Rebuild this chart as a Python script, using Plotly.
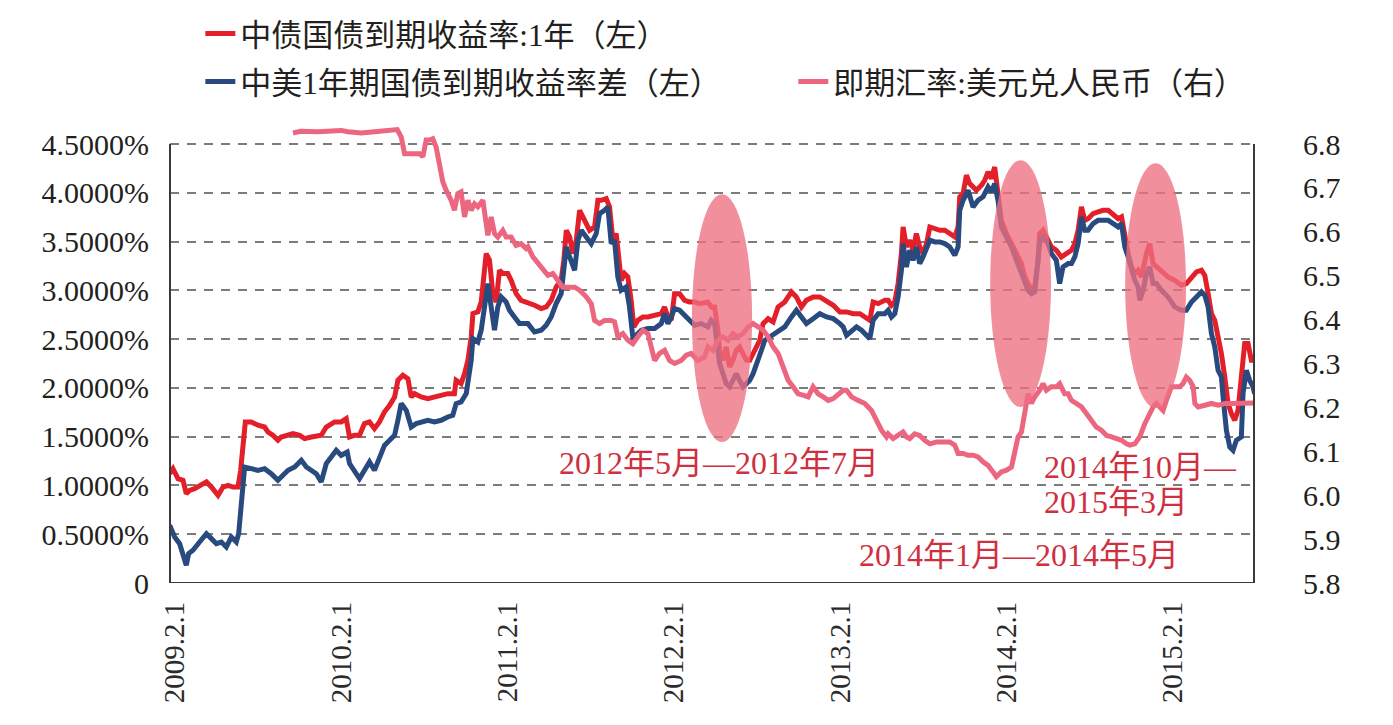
import plotly.graph_objects as go
import pandas as pd

# ---------------- data ----------------
# x values are fractional years, y values in % (left axis) or CNY per USD (right axis)
cn1y = [
    (2009.053, 1.121), (2009.073, 1.172), (2009.103, 1.070), (2009.133, 1.053), (2009.153, 0.916),
    (2009.173, 0.950), (2009.203, 0.967), (2009.233, 1.001), (2009.274, 1.036), (2009.304, 0.984),
    (2009.344, 0.899), (2009.374, 0.984), (2009.404, 1.001), (2009.434, 0.984), (2009.464, 0.984),
    (2009.480, 1.155), (2009.494, 1.360), (2009.508, 1.651), (2009.544, 1.651), (2009.584, 1.617),
    (2009.624, 1.599), (2009.644, 1.548), (2009.674, 1.514), (2009.704, 1.463), (2009.724, 1.497),
    (2009.755, 1.514), (2009.795, 1.531), (2009.835, 1.514), (2009.865, 1.480), (2009.905, 1.497),
    (2009.965, 1.514), (2009.995, 1.599), (2010.045, 1.651), (2010.085, 1.651), (2010.115, 1.685),
    (2010.135, 1.497), (2010.165, 1.514), (2010.195, 1.514), (2010.225, 1.634), (2010.255, 1.651),
    (2010.285, 1.582), (2010.315, 1.651), (2010.345, 1.753), (2010.376, 1.822), (2010.406, 1.907),
    (2010.426, 2.078), (2010.456, 2.129), (2010.486, 2.095), (2010.506, 1.907), (2010.526, 1.941),
    (2010.566, 1.907), (2010.606, 1.890), (2010.646, 1.907), (2010.686, 1.924), (2010.726, 1.941),
    (2010.766, 1.941), (2010.776, 2.078), (2010.806, 2.044), (2010.827, 2.146), (2010.847, 2.283),
    (2010.867, 2.522), (2010.877, 2.761), (2010.907, 2.779), (2010.927, 2.881), (2010.937, 3.069),
    (2010.957, 3.377), (2010.977, 3.308), (2010.997, 2.966), (2011.017, 2.881), (2011.037, 3.206),
    (2011.057, 3.172), (2011.087, 3.172), (2011.107, 3.103), (2011.137, 2.966), (2011.167, 2.898),
    (2011.197, 2.881), (2011.248, 2.847), (2011.288, 2.813), (2011.318, 2.830), (2011.348, 2.898),
    (2011.378, 3.035), (2011.408, 3.103), (2011.424, 3.308), (2011.439, 3.616), (2011.459, 3.548),
    (2011.479, 3.377), (2011.499, 3.514), (2011.519, 3.821), (2011.549, 3.718), (2011.579, 3.616),
    (2011.609, 3.650), (2011.629, 3.923), (2011.649, 3.923), (2011.679, 3.941), (2011.699, 3.855),
    (2011.719, 3.514), (2011.739, 3.582), (2011.753, 3.308), (2011.769, 3.103), (2011.789, 3.172),
    (2011.809, 3.137), (2011.829, 2.898), (2011.845, 2.625), (2011.869, 2.693), (2011.900, 2.727),
    (2011.930, 2.727), (2011.970, 2.744), (2012.010, 2.761), (2012.030, 2.830), (2012.050, 2.727),
    (2012.070, 2.693), (2012.090, 2.966), (2012.120, 2.966), (2012.150, 2.898), (2012.180, 2.881),
    (2012.210, 2.881), (2012.240, 2.864), (2012.270, 2.881), (2012.290, 2.881), (2012.310, 2.830),
    (2012.330, 2.830), (2012.350, 2.591), (2012.360, 2.386), (2012.380, 2.283), (2012.400, 2.420),
    (2012.420, 2.215), (2012.440, 2.283), (2012.460, 2.386), (2012.480, 2.420), (2012.500, 2.351),
    (2012.521, 2.283), (2012.541, 2.283), (2012.561, 2.351), (2012.581, 2.420), (2012.601, 2.488),
    (2012.621, 2.659), (2012.651, 2.710), (2012.681, 2.676), (2012.711, 2.830), (2012.751, 2.881),
    (2012.791, 2.984), (2012.821, 2.932), (2012.851, 2.830), (2012.881, 2.898), (2012.921, 2.932),
    (2012.961, 2.932), (2013.002, 2.881), (2013.042, 2.847), (2013.082, 2.779), (2013.122, 2.779),
    (2013.162, 2.761), (2013.202, 2.761), (2013.232, 2.727), (2013.262, 2.693), (2013.282, 2.881),
    (2013.312, 2.864), (2013.352, 2.898), (2013.372, 2.898), (2013.392, 2.847), (2013.412, 2.881),
    (2013.432, 3.069), (2013.452, 3.377), (2013.462, 3.650), (2013.482, 3.445), (2013.502, 3.514),
    (2013.522, 3.411), (2013.542, 3.582), (2013.562, 3.445), (2013.582, 3.377), (2013.603, 3.479),
    (2013.623, 3.650), (2013.653, 3.633), (2013.683, 3.616), (2013.713, 3.616), (2013.743, 3.582),
    (2013.773, 3.548), (2013.793, 3.650), (2013.803, 3.958), (2013.823, 3.992), (2013.843, 4.180),
    (2013.863, 4.094), (2013.883, 4.060), (2013.903, 4.026), (2013.933, 4.077), (2013.953, 4.128),
    (2013.973, 4.214), (2013.993, 4.146), (2014.013, 4.265), (2014.033, 3.992), (2014.053, 3.718),
    (2014.084, 3.582), (2014.114, 3.479), (2014.144, 3.377), (2014.174, 3.274), (2014.194, 3.137),
    (2014.214, 3.069), (2014.234, 3.001), (2014.254, 3.035), (2014.274, 3.308), (2014.284, 3.582),
    (2014.304, 3.616), (2014.334, 3.514), (2014.354, 3.445), (2014.384, 3.411), (2014.414, 3.342),
    (2014.444, 3.377), (2014.475, 3.411), (2014.495, 3.479), (2014.515, 3.616), (2014.535, 3.855),
    (2014.555, 3.718), (2014.575, 3.735), (2014.605, 3.787), (2014.635, 3.804), (2014.665, 3.821),
    (2014.696, 3.821), (2014.726, 3.770), (2014.756, 3.735), (2014.776, 3.753), (2014.796, 3.548),
    (2014.816, 3.377), (2014.836, 3.240), (2014.856, 3.172), (2014.876, 3.206), (2014.896, 3.137),
    (2014.926, 3.377), (2014.946, 3.479), (2014.966, 3.274), (2014.986, 3.240), (2015.016, 3.206),
    (2015.056, 3.137), (2015.096, 3.103), (2015.136, 3.052), (2015.166, 3.069), (2015.197, 3.137),
    (2015.227, 3.189), (2015.257, 3.206), (2015.277, 3.154), (2015.297, 2.966), (2015.317, 2.761),
    (2015.337, 2.693), (2015.357, 2.522), (2015.377, 2.351), (2015.397, 2.112), (2015.417, 1.839),
    (2015.437, 1.736), (2015.457, 1.668), (2015.477, 1.770), (2015.497, 2.180), (2015.517, 2.454),
    (2015.537, 2.454), (2015.557, 2.283), (2015.577, 2.283),
]

cn_us_spread = [
    (2009.053, 0.591), (2009.083, 0.472), (2009.113, 0.403), (2009.133, 0.301), (2009.153, 0.181),
    (2009.167, 0.301), (2009.193, 0.335), (2009.233, 0.420), (2009.274, 0.506), (2009.304, 0.455),
    (2009.334, 0.403), (2009.364, 0.420), (2009.394, 0.369), (2009.424, 0.472), (2009.454, 0.420),
    (2009.468, 0.506), (2009.484, 0.813), (2009.504, 1.189), (2009.544, 1.172), (2009.584, 1.155),
    (2009.624, 1.172), (2009.664, 1.121), (2009.704, 1.053), (2009.735, 1.104), (2009.765, 1.155),
    (2009.805, 1.189), (2009.845, 1.258), (2009.875, 1.189), (2009.905, 1.155), (2009.935, 1.121),
    (2009.965, 1.036), (2009.995, 1.224), (2010.025, 1.292), (2010.055, 1.360), (2010.085, 1.309),
    (2010.121, 1.343), (2010.135, 1.224), (2010.165, 1.138), (2010.195, 1.070), (2010.225, 1.155),
    (2010.255, 1.241), (2010.285, 1.155), (2010.315, 1.292), (2010.345, 1.411), (2010.376, 1.463),
    (2010.406, 1.514), (2010.426, 1.668), (2010.446, 1.839), (2010.476, 1.770), (2010.506, 1.599),
    (2010.536, 1.634), (2010.566, 1.651), (2010.606, 1.668), (2010.646, 1.651), (2010.686, 1.668),
    (2010.726, 1.702), (2010.756, 1.719), (2010.776, 1.839), (2010.806, 1.856), (2010.837, 1.941),
    (2010.867, 2.283), (2010.877, 2.505), (2010.907, 2.471), (2010.927, 2.591), (2010.947, 2.830),
    (2010.967, 3.069), (2010.987, 2.830), (2011.007, 2.591), (2011.027, 2.830), (2011.047, 2.932),
    (2011.077, 2.881), (2011.097, 2.796), (2011.127, 2.727), (2011.157, 2.659), (2011.187, 2.659),
    (2011.208, 2.659), (2011.248, 2.573), (2011.288, 2.591), (2011.318, 2.642), (2011.348, 2.727),
    (2011.378, 2.864), (2011.408, 2.966), (2011.428, 3.274), (2011.439, 3.445), (2011.459, 3.342),
    (2011.489, 3.206), (2011.509, 3.514), (2011.529, 3.616), (2011.559, 3.548), (2011.589, 3.479),
    (2011.619, 3.582), (2011.639, 3.787), (2011.669, 3.821), (2011.689, 3.855), (2011.709, 3.479),
    (2011.729, 3.514), (2011.749, 3.137), (2011.769, 3.001), (2011.799, 3.035), (2011.819, 2.830),
    (2011.839, 2.522), (2011.859, 2.539), (2011.890, 2.591), (2011.930, 2.608), (2011.970, 2.608),
    (2012.010, 2.659), (2012.030, 2.761), (2012.050, 2.659), (2012.070, 2.727), (2012.090, 2.813),
    (2012.120, 2.796), (2012.150, 2.744), (2012.180, 2.676), (2012.210, 2.642), (2012.250, 2.659),
    (2012.290, 2.625), (2012.310, 2.693), (2012.330, 2.659), (2012.350, 2.386), (2012.360, 2.249),
    (2012.380, 2.146), (2012.400, 2.044), (2012.420, 2.010), (2012.440, 2.095), (2012.460, 2.146),
    (2012.480, 2.078), (2012.500, 2.010), (2012.521, 2.044), (2012.541, 2.078), (2012.561, 2.146),
    (2012.581, 2.232), (2012.611, 2.386), (2012.631, 2.488), (2012.661, 2.522), (2012.691, 2.556),
    (2012.721, 2.591), (2012.751, 2.625), (2012.791, 2.727), (2012.821, 2.796), (2012.851, 2.727),
    (2012.881, 2.659), (2012.921, 2.710), (2012.961, 2.761), (2013.002, 2.727), (2013.042, 2.710),
    (2013.082, 2.659), (2013.102, 2.625), (2013.122, 2.539), (2013.152, 2.591), (2013.182, 2.625),
    (2013.212, 2.591), (2013.242, 2.539), (2013.262, 2.505), (2013.282, 2.693), (2013.312, 2.761),
    (2013.352, 2.761), (2013.372, 2.796), (2013.392, 2.727), (2013.412, 2.761), (2013.432, 2.932),
    (2013.452, 3.206), (2013.462, 3.479), (2013.482, 3.240), (2013.502, 3.411), (2013.522, 3.308),
    (2013.542, 3.445), (2013.562, 3.274), (2013.582, 3.342), (2013.603, 3.445), (2013.623, 3.514),
    (2013.653, 3.496), (2013.683, 3.496), (2013.713, 3.479), (2013.743, 3.445), (2013.773, 3.359),
    (2013.793, 3.445), (2013.803, 3.821), (2013.823, 3.923), (2013.853, 4.026), (2013.883, 3.855),
    (2013.913, 3.923), (2013.943, 3.958), (2013.973, 4.060), (2013.993, 4.009), (2014.013, 4.094),
    (2014.033, 3.923), (2014.053, 3.650), (2014.084, 3.548), (2014.114, 3.445), (2014.144, 3.308),
    (2014.174, 3.172), (2014.194, 3.069), (2014.214, 3.001), (2014.234, 2.966), (2014.254, 2.984),
    (2014.274, 3.308), (2014.284, 3.514), (2014.304, 3.548), (2014.334, 3.479), (2014.354, 3.377),
    (2014.384, 3.308), (2014.404, 3.069), (2014.424, 3.240), (2014.455, 3.274), (2014.475, 3.274),
    (2014.495, 3.342), (2014.515, 3.479), (2014.535, 3.753), (2014.555, 3.616), (2014.575, 3.616),
    (2014.605, 3.684), (2014.635, 3.718), (2014.665, 3.718), (2014.696, 3.718), (2014.726, 3.684),
    (2014.756, 3.650), (2014.776, 3.684), (2014.796, 3.445), (2014.816, 3.342), (2014.836, 3.206),
    (2014.856, 3.103), (2014.876, 3.035), (2014.886, 2.898), (2014.906, 3.001), (2014.926, 3.172),
    (2014.946, 3.240), (2014.966, 3.069), (2014.986, 3.069), (2015.016, 3.001), (2015.056, 2.932),
    (2015.096, 2.830), (2015.136, 2.796), (2015.166, 2.796), (2015.197, 2.881), (2015.227, 2.932),
    (2015.257, 2.984), (2015.277, 2.949), (2015.297, 2.830), (2015.317, 2.556), (2015.337, 2.420),
    (2015.357, 2.180), (2015.377, 2.112), (2015.387, 1.907), (2015.407, 1.565), (2015.427, 1.394),
    (2015.447, 1.360), (2015.467, 1.463), (2015.497, 1.497), (2015.507, 1.941), (2015.527, 2.180),
    (2015.547, 2.078), (2015.567, 2.010), (2015.577, 1.941),
]

usdcny = [
    (2009.795, 6.825), (2009.840, 6.829), (2009.945, 6.828), (2010.045, 6.830), (2010.085, 6.831),
    (2010.125, 6.828), (2010.205, 6.825), (2010.285, 6.828), (2010.366, 6.830), (2010.422, 6.833),
    (2010.446, 6.816), (2010.466, 6.778), (2010.496, 6.778), (2010.526, 6.778), (2010.556, 6.778),
    (2010.576, 6.771), (2010.596, 6.809), (2010.616, 6.809), (2010.636, 6.812), (2010.656, 6.793),
    (2010.676, 6.755), (2010.696, 6.714), (2010.716, 6.695), (2010.746, 6.672), (2010.766, 6.649),
    (2010.786, 6.687), (2010.806, 6.691), (2010.827, 6.634), (2010.847, 6.672), (2010.867, 6.649),
    (2010.887, 6.664), (2010.907, 6.657), (2010.937, 6.672), (2010.957, 6.611), (2010.967, 6.592),
    (2010.987, 6.634), (2011.007, 6.596), (2011.027, 6.588), (2011.057, 6.603), (2011.077, 6.588),
    (2011.107, 6.588), (2011.137, 6.569), (2011.167, 6.573), (2011.197, 6.562), (2011.208, 6.566),
    (2011.238, 6.543), (2011.268, 6.528), (2011.298, 6.512), (2011.328, 6.501), (2011.358, 6.505),
    (2011.388, 6.490), (2011.418, 6.474), (2011.449, 6.474), (2011.489, 6.474), (2011.519, 6.467),
    (2011.559, 6.452), (2011.589, 6.436), (2011.609, 6.398), (2011.639, 6.391), (2011.669, 6.398),
    (2011.709, 6.398), (2011.729, 6.395), (2011.749, 6.361), (2011.779, 6.368), (2011.809, 6.353),
    (2011.839, 6.345), (2011.869, 6.361), (2011.900, 6.376), (2011.930, 6.368), (2011.950, 6.338),
    (2011.970, 6.307), (2012.000, 6.323), (2012.030, 6.330), (2012.060, 6.307), (2012.090, 6.300),
    (2012.130, 6.307), (2012.160, 6.319), (2012.190, 6.323), (2012.230, 6.307), (2012.270, 6.315),
    (2012.290, 6.338), (2012.320, 6.330), (2012.350, 6.353), (2012.380, 6.361), (2012.410, 6.353),
    (2012.440, 6.368), (2012.470, 6.361), (2012.500, 6.368), (2012.531, 6.383), (2012.561, 6.391),
    (2012.591, 6.383), (2012.621, 6.376), (2012.651, 6.361), (2012.681, 6.338), (2012.711, 6.323),
    (2012.741, 6.292), (2012.771, 6.262), (2012.801, 6.247), (2012.831, 6.231), (2012.861, 6.228),
    (2012.891, 6.224), (2012.921, 6.247), (2012.951, 6.231), (2012.982, 6.224), (2013.012, 6.216),
    (2013.042, 6.220), (2013.072, 6.228), (2013.102, 6.239), (2013.122, 6.239), (2013.152, 6.224),
    (2013.192, 6.216), (2013.232, 6.209), (2013.272, 6.193), (2013.302, 6.171), (2013.332, 6.148),
    (2013.362, 6.133), (2013.372, 6.140), (2013.402, 6.129), (2013.432, 6.136), (2013.462, 6.144),
    (2013.482, 6.133), (2013.502, 6.129), (2013.532, 6.140), (2013.562, 6.136), (2013.592, 6.125),
    (2013.623, 6.117), (2013.663, 6.121), (2013.703, 6.121), (2013.743, 6.121), (2013.773, 6.114),
    (2013.793, 6.095), (2013.823, 6.095), (2013.853, 6.091), (2013.883, 6.091), (2013.913, 6.087),
    (2013.943, 6.076), (2013.973, 6.068), (2014.003, 6.053), (2014.023, 6.042), (2014.053, 6.053),
    (2014.084, 6.057), (2014.114, 6.064), (2014.134, 6.095), (2014.154, 6.133), (2014.174, 6.144),
    (2014.194, 6.186), (2014.214, 6.231), (2014.234, 6.209), (2014.254, 6.224), (2014.284, 6.239),
    (2014.304, 6.254), (2014.324, 6.239), (2014.354, 6.247), (2014.384, 6.247), (2014.404, 6.254),
    (2014.434, 6.231), (2014.455, 6.231), (2014.475, 6.216), (2014.505, 6.209), (2014.535, 6.201),
    (2014.565, 6.186), (2014.595, 6.171), (2014.625, 6.155), (2014.655, 6.148), (2014.686, 6.136),
    (2014.716, 6.133), (2014.746, 6.129), (2014.776, 6.125), (2014.806, 6.117), (2014.826, 6.114),
    (2014.856, 6.117), (2014.886, 6.133), (2014.916, 6.163), (2014.946, 6.186), (2014.966, 6.201),
    (2014.986, 6.209), (2015.006, 6.201), (2015.026, 6.193), (2015.046, 6.216), (2015.076, 6.247),
    (2015.106, 6.247), (2015.126, 6.247), (2015.146, 6.254), (2015.166, 6.269), (2015.186, 6.262),
    (2015.207, 6.247), (2015.217, 6.209), (2015.237, 6.201), (2015.277, 6.205), (2015.317, 6.209),
    (2015.357, 6.205), (2015.397, 6.209), (2015.437, 6.209), (2015.477, 6.209), (2015.517, 6.210),
    (2015.577, 6.210),
]

series_names = ["中债国债到期收益率:1年（左）", "中美1年期国债到期收益率差（左）", "即期汇率:美元兑人民币（右）"]
left_ticks = [0, 0.5, 1.0, 1.5, 2.0, 2.5, 3.0, 3.5, 4.0, 4.5]
left_ticktext = ["0", "0.5000%", "1.0000%", "1.5000%", "2.0000%", "2.5000%", "3.0000%", "3.5000%", "4.0000%", "4.5000%"]
right_ticks = [5.8, 5.9, 6.0, 6.1, 6.2, 6.3, 6.4, 6.5, 6.6, 6.7, 6.8]
x_tick_dates = ["2009-02-01", "2010-02-01", "2011-02-01", "2012-02-01", "2013-02-01", "2014-02-01", "2015-02-01"]
x_ticktext = ["2009.2.1", "2010.2.1", "2011.2.1", "2012.2.1", "2013.2.1", "2014.2.1", "2015.2.1"]

# highlighted periods: (x start, x end, y bottom, y top) in years / left-axis %
highlights = [
    (2012.194, 2012.555, 1.445, 3.986),
    (2013.986, 2014.352, 1.803, 4.334),
    (2014.798, 2015.164, 1.793, 4.303),
]
notes = [
    ("2012年5月—2012年7月", 2012.356, 1.23, "center"),
    ("2014年10月—", 2014.298, 1.19, "left"),
    ("2015年3月", 2014.298, 0.83, "left"),
    ("2014年1月—2014年5月", 2014.157, 0.29, "center"),
]
x_range = (2009.055, 2015.573)


# ---------------- helpers ----------------
def to_date(y):
    yi = int(y)
    start = pd.Timestamp(yi, 1, 1)
    n = (pd.Timestamp(yi + 1, 1, 1) - start).days
    return (start + pd.Timedelta(days=(y - yi) * n)).strftime("%Y-%m-%d %H:%M")


def split(pts):
    return [to_date(t) for t, _ in pts], [v for _, v in pts]


YMAX = 4.695
RMIN = 5.8
RMAX = RMIN + YMAX / 4.5

RED = "#e31f2a"
BLUE = "#284a7e"
PINK = "#ec6680"
NOTE = "#cf2f3f"
SERIF_CJK = "Liberation Serif, Noto Sans CJK SC"
TICK_FAMILY = "Liberation Serif"
LEG_FONT = dict(family=SERIF_CJK, size=31, color="#231f20")

fig = go.Figure()
x1, y1 = split(cn1y)
x2, y2 = split(cn_us_spread)
x3, y3 = split(usdcny)

fig.add_trace(go.Scatter(x=x1, y=y1, mode="lines", name=series_names[0],
                         line=dict(color=RED, width=5), legend="legend"))
fig.add_trace(go.Scatter(x=x2, y=y2, mode="lines", name=series_names[1],
                         line=dict(color=BLUE, width=5), legend="legend2"))
fig.add_trace(go.Scatter(x=x3, y=y3, mode="lines", name=series_names[2],
                         line=dict(color=PINK, width=5), legend="legend3", yaxis="y2"))

shapes = []
# frame (left, right, bottom)
for xs, ys in [((0, 0), (0, 4.5)), ((1, 1), (0, 4.5)), ((0, 1), (0, 0))]:
    shapes.append(dict(type="line", xref="paper", yref="y", x0=xs[0], x1=xs[1], y0=ys[0], y1=ys[1],
                       line=dict(color="#3a3a3a", width=2), layer="above"))
for x0, x1_, yb, yt in highlights:
    shapes.append(dict(type="circle", xref="x", yref="y", x0=to_date(x0), x1=to_date(x1_), y0=yb, y1=yt,
                       fillcolor="rgba(238,112,130,0.78)", line=dict(width=0), layer="above"))

annotations = []
for text, xv, yv, anchor in notes:
    annotations.append(dict(text=text, x=to_date(xv), y=yv, xref="x", yref="y", showarrow=False,
                            xanchor=anchor, yanchor="middle",
                            font=dict(family=SERIF_CJK, size=32, color=NOTE)))

fig.update_layout(
    width=1393, height=725,
    margin=dict(l=170, r=139, t=125, b=142, autoexpand=False),
    plot_bgcolor="white", paper_bgcolor="white",
    shapes=shapes, annotations=annotations,
    showlegend=True,
    legend=dict(x=0.028, y=1.199, xanchor="left", yanchor="middle", font=LEG_FONT,
                bgcolor="rgba(0,0,0,0)", itemwidth=30),
    legend2=dict(x=0.028, y=1.094, xanchor="left", yanchor="middle", font=LEG_FONT,
                 bgcolor="rgba(0,0,0,0)", itemwidth=30),
    legend3=dict(x=0.575, y=1.094, xanchor="left", yanchor="middle", font=LEG_FONT,
                 bgcolor="rgba(0,0,0,0)", itemwidth=30),
    xaxis=dict(type="date", range=[to_date(x_range[0]), to_date(x_range[1])],
               tickmode="array", tickvals=x_tick_dates, ticktext=x_ticktext, tickangle=-90,
               showgrid=False, zeroline=False, showline=False, ticks="",
               ticklabelstandoff=12,
               tickfont=dict(family=TICK_FAMILY, size=29, color="#2b2b2b")),
    yaxis=dict(range=[0, YMAX], tickmode="array", tickvals=left_ticks, ticktext=left_ticktext,
               showgrid=True, gridcolor="#7c7c7c", gridwidth=1.5, griddash="9px,8px",
               zeroline=False, showline=False, ticks="", ticklabelstandoff=20,
               tickfont=dict(family=TICK_FAMILY, size=30, color="#231f20")),
    yaxis2=dict(range=[RMIN, RMAX], overlaying="y", side="right", tickmode="array",
                tickvals=right_ticks, ticktext=[f"{v:.1f}" for v in right_ticks],
                showgrid=False, zeroline=False, showline=False, ticks="", ticklabelstandoff=48,
                tickfont=dict(family=TICK_FAMILY, size=30, color="#231f20")),
)

fig.write_html("out.html")
